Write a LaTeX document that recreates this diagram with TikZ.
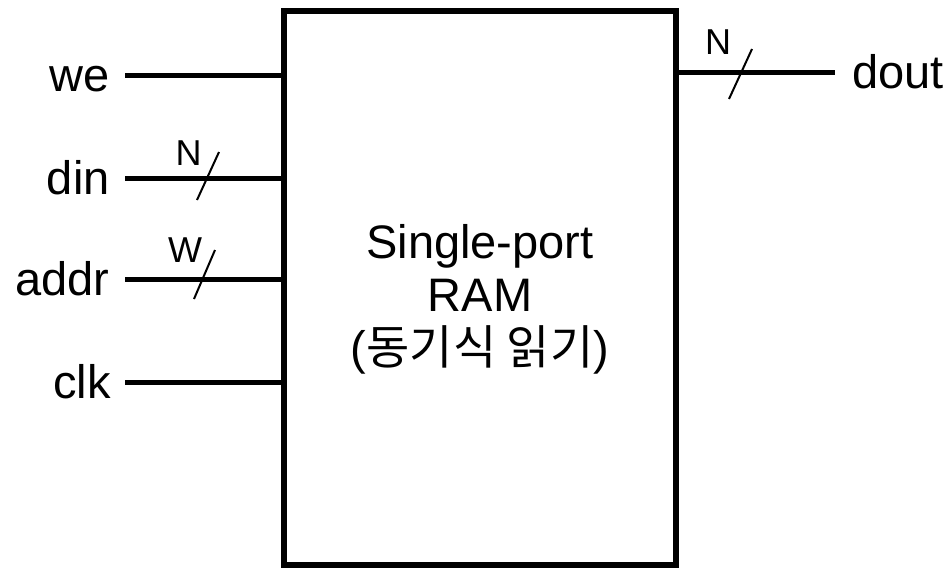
\documentclass[tikz,border=0pt]{standalone}
\usepackage{fontspec}
\setmainfont{Liberation Sans}
\newfontfamily\kofont[Scale=1.0]{Noto Sans CJK KR}
\usetikzlibrary{positioning}
\tikzset{
  wire/.style = {line width=2.5pt},
  busline/.style = {line width=1pt},
  sig/.style = {font=\fontsize{23.5}{26}\selectfont, inner sep=0pt, text height=20.7pt, text depth=4.7pt},
  buswidth/.style = {font=\fontsize{18}{20}\selectfont, inner sep=0pt},
  ramblock/.style = {draw, line width=3pt, minimum width=196pt, minimum height=277pt, inner sep=0pt},
}

\begin{document}
\begin{tikzpicture}[x=0.5pt, y=-0.5pt]
\useasboundingbox (0,0) rectangle (947,568);

\node[ramblock] (ram) at (480,288){};
\node[font=\fontsize{23.5}{26.5}\selectfont, align=center, inner sep=0pt] (title) at (480,299)
  {Single-port\\RAM\\({\kofont 동기식 읽기})};

\node[sig, anchor=east] (we) at (110,75){we};
\node[sig, anchor=east] (din) at (110,178){din};
\node[sig, anchor=east] (addr) at (110,279){addr};
\node[sig, anchor=east] (clk) at (111,382){clk};
\node[sig, anchor=west] (dout) at (852,72){dout};

\draw[wire, shorten <=7.5pt] (we) -- (we -| ram.west);
\draw[wire, shorten <=7.5pt] (din) -- (din -| ram.west);
\draw[wire, shorten <=7.5pt] (addr) -- (addr -| ram.west);
\draw[wire, shorten <=7pt] (clk) -- (clk -| ram.west);
\draw[wire, shorten >=8.5pt] (dout -| ram.east) -- (dout);

% bus width marks
\coordinate (dinbus) at (208,177);
\draw[busline] ([shift={(11,-25)}]dinbus) -- ([shift={(-11,23)}]dinbus);
\node[buswidth] (dinw) at (188.5,153){N};

\coordinate (addrbus) at (205,279);
\draw[busline] ([shift={(10,-29)}]addrbus) -- ([shift={(-11,20)}]addrbus);
\node[buswidth] (addrw) at (185,250){W};

\coordinate (doutbus) at (741,72);
\draw[busline] ([shift={(11,-23)}]doutbus) -- ([shift={(-12,27)}]doutbus);
\node[buswidth] (doutw) at (718,42.5){N};

\end{tikzpicture}
\end{document}
